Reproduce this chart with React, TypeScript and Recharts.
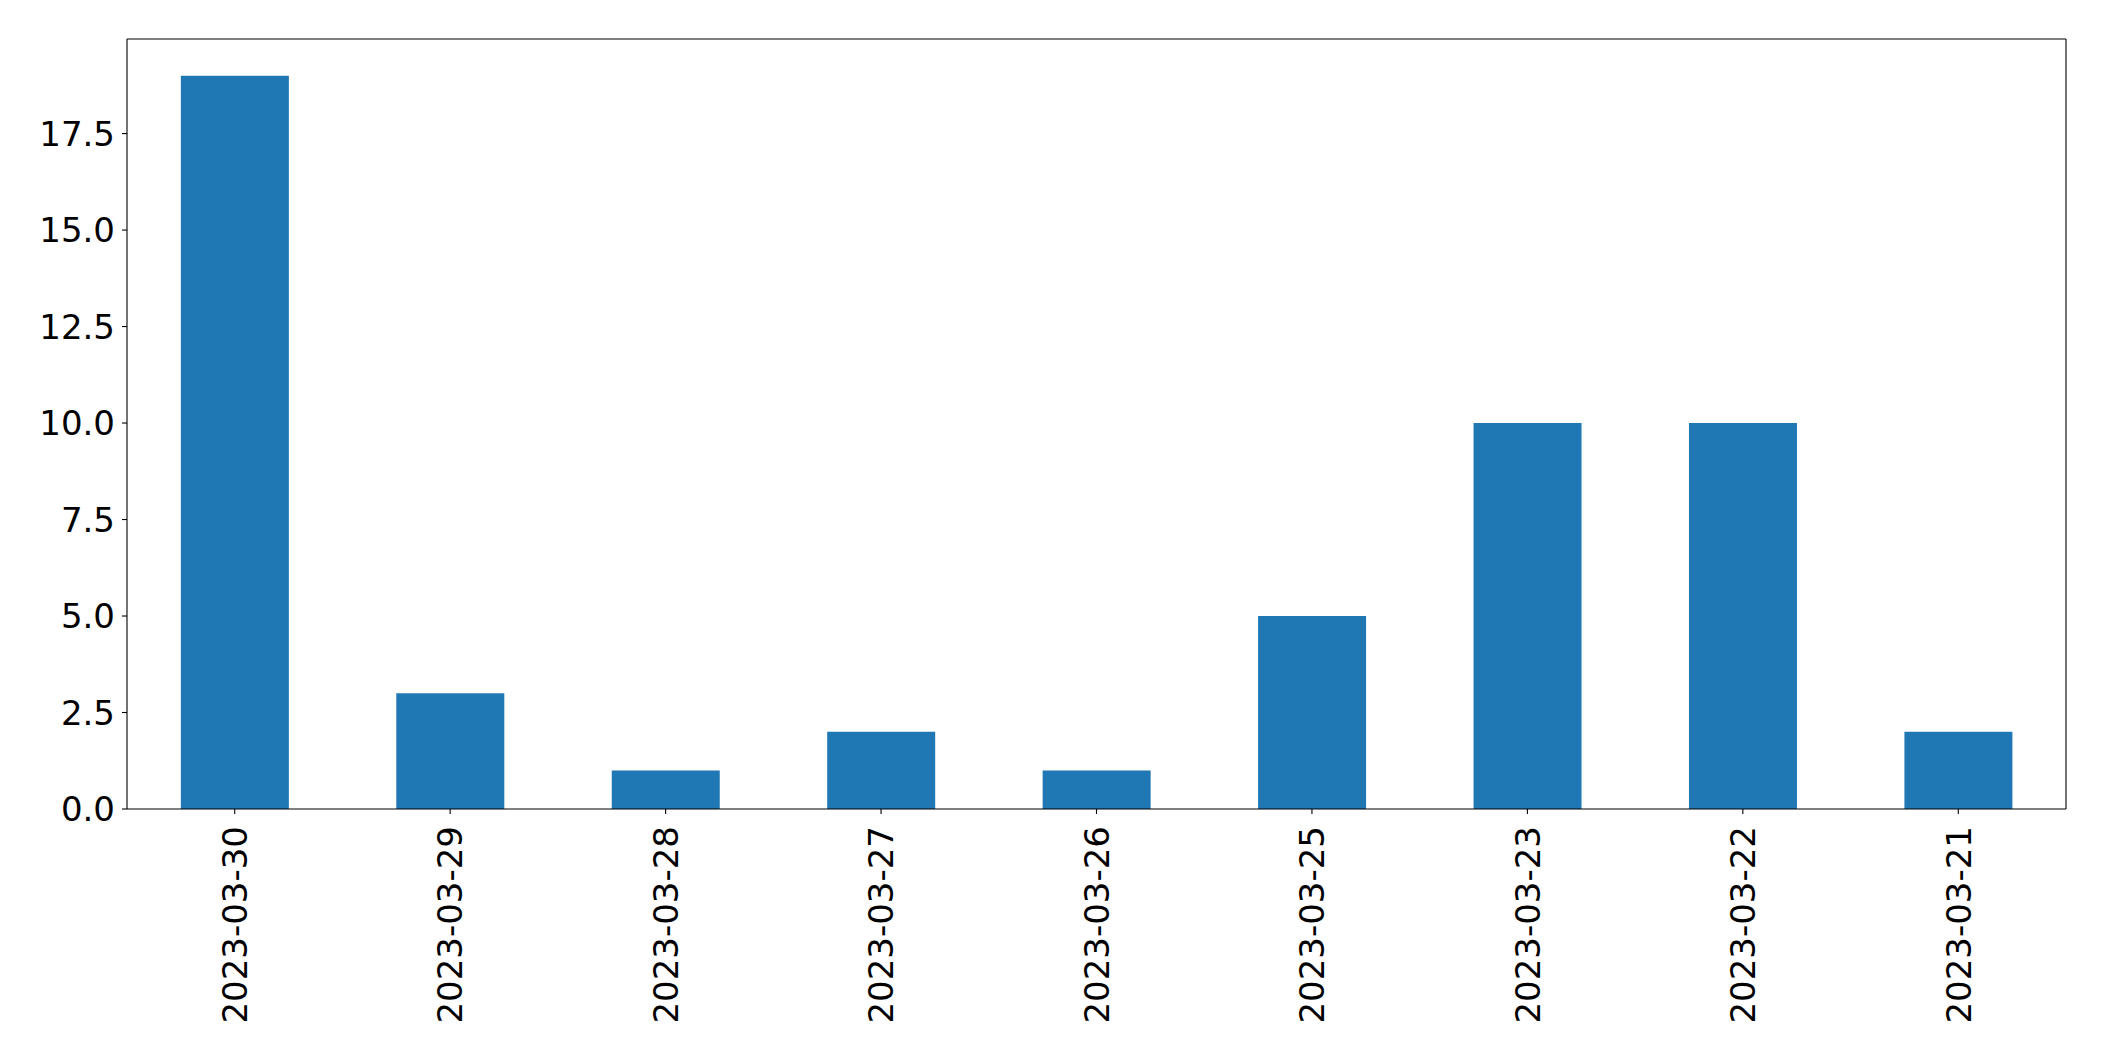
import React from "react";
import { BarChart, Bar, XAxis, YAxis, ReferenceLine } from "recharts";

const categories = [
  "2023-03-30",
  "2023-03-29",
  "2023-03-28",
  "2023-03-27",
  "2023-03-26",
  "2023-03-25",
  "2023-03-23",
  "2023-03-22",
  "2023-03-21",
];
const counts = [19, 3, 1, 2, 1, 5, 10, 10, 2];
const yTicks = [0, 2.5, 5, 7.5, 10, 12.5, 15, 17.5];
const yMax = 19.95;

const data = categories.map((c, i) => ({ date: c, count: counts[i] }));

const FONT = "'DejaVu Sans', sans-serif";
const FS = 34;

const XTick = (props: any) => {
  const { x, y, payload } = props;
  return (
    <g transform={`translate(${x},${y + 12}) rotate(-90)`}>
      <text
        x={0}
        y={0}
        dy="0.36em"
        textAnchor="end"
        fill="#000"
        fontSize={FS}
        fontFamily={FONT}
      >
        {payload.value}
      </text>
    </g>
  );
};

export default function App() {
  return (
    <div style={{ position: "absolute", left: 0, top: 0, background: "#fff" }}>
      <BarChart
        width={2104}
        height={1061}
        data={data}
        margin={{ top: 39, right: 38, bottom: 0, left: 0 }}
        barCategoryGap="25%"
      >
        <XAxis
          dataKey="date"
          height={252}
          interval={0}
          tickSize={5}
          tickMargin={0}
          tickLine={{ stroke: "#000", strokeWidth: 1.1 }}
          axisLine={{ stroke: "#000", strokeWidth: 1.1 }}
          tick={<XTick />}
        />
        <YAxis
          width={127}
          domain={[0, yMax]}
          ticks={yTicks}
          allowDataOverflow
          tickFormatter={(v: number) => v.toFixed(1)}
          tickSize={5}
          tickMargin={7}
          tickLine={{ stroke: "#000", strokeWidth: 1.1 }}
          axisLine={{ stroke: "#000", strokeWidth: 1.1 }}
          tick={{ fill: "#000", fontSize: FS, fontFamily: FONT }}
        />
        <Bar dataKey="count" fill="#1f77b4" isAnimationActive={false} />
        <ReferenceLine y={yMax} stroke="#000" strokeWidth={1.1} />
        <ReferenceLine
          x={categories[categories.length - 1]}
          position="end"
          stroke="#000"
          strokeWidth={1.1}
        />
      </BarChart>
    </div>
  );
}
